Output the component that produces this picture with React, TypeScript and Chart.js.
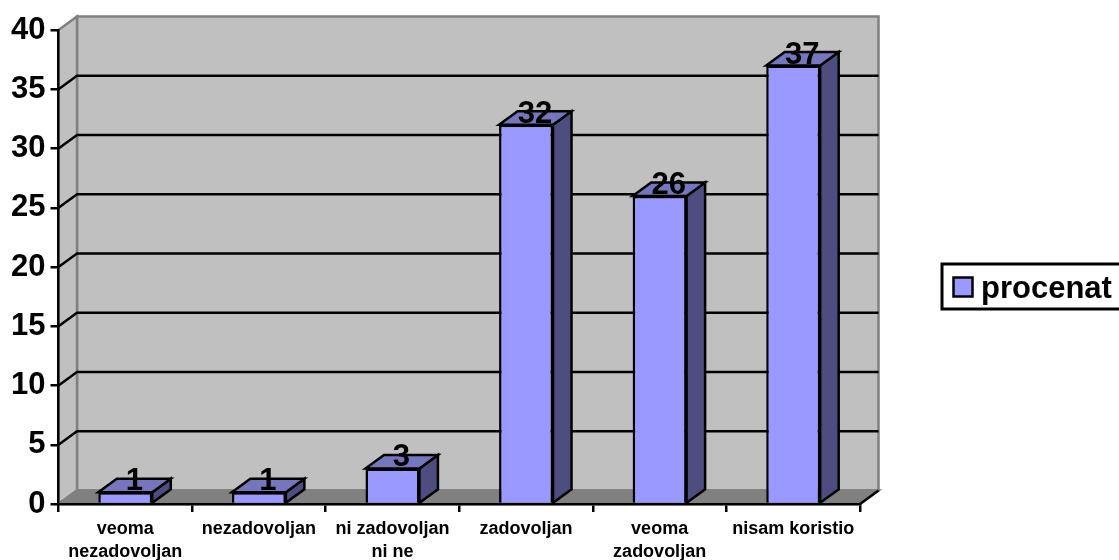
import React, { useEffect, useRef } from "react";
import { Chart, registerables } from "chart.js";

Chart.register(...registerables);

const categories: string[][] = [
  ["veoma", "nezadovoljan"],
  ["nezadovoljan"],
  ["ni zadovoljan", "ni ne"],
  ["zadovoljan"],
  ["veoma", "zadovoljan"],
  ["nisam koristio"],
];
const seriesName = "procenat";
const values = [1, 1, 3, 32, 26, 37];

const FONT = '"Liberation Sans", Arial, sans-serif';
const DX = 18.5;
const DY = 13.5;
const LW = 2.5;

function poly(ctx: CanvasRenderingContext2D, pts: number[][], fill: string | null, stroke: string | null, lw = LW) {
  ctx.beginPath();
  pts.forEach((p, i) => (i ? ctx.lineTo(p[0], p[1]) : ctx.moveTo(p[0], p[1])));
  ctx.closePath();
  if (fill) {
    ctx.fillStyle = fill;
    ctx.fill();
  }
  if (stroke) {
    ctx.strokeStyle = stroke;
    ctx.lineWidth = lw;
    ctx.lineJoin = "miter";
    ctx.stroke();
  }
}

const walls3d = {
  id: "walls3d",
  beforeDraw(chart: any) {
    const { ctx, chartArea: a, scales } = chart;
    const y = scales.y;
    ctx.save();
    // back wall
    poly(ctx, [[a.left + DX, a.top - DY], [a.right + DX, a.top - DY], [a.right + DX, a.bottom - DY], [a.left + DX, a.bottom - DY]], "#C0C0C0", "#808080");
    // left wall
    poly(ctx, [[a.left, a.top], [a.left + DX, a.top - DY], [a.left + DX, a.bottom - DY], [a.left, a.bottom]], "#C0C0C0", "#808080");
    // floor
    poly(ctx, [[a.left, a.bottom], [a.left + DX, a.bottom - DY], [a.right + DX, a.bottom - DY], [a.right, a.bottom]], "#808080", "#808080");
    // grid lines
    ctx.strokeStyle = "#000";
    ctx.lineWidth = LW;
    y.ticks.forEach((t: any) => {
      if (t.value === 0 || t.value === y.max) return;
      const py = y.getPixelForValue(t.value);
      ctx.beginPath();
      ctx.moveTo(a.left, py);
      ctx.lineTo(a.left + DX, py - DY);
      ctx.lineTo(a.right + DX, py - DY);
      ctx.stroke();
    });
    // right floor edge
    ctx.beginPath();
    ctx.moveTo(a.right, a.bottom);
    ctx.lineTo(a.right + DX, a.bottom - DY);
    ctx.stroke();
    ctx.restore();
  },
  beforeDatasetsDraw(chart: any) {
    const { ctx } = chart;
    ctx.save();
    chart.getDatasetMeta(0).data.forEach((bar: any) => {
      const l = bar.x - bar.width / 2;
      const r = bar.x + bar.width / 2;
      poly(ctx, [[r, bar.y], [r + DX, bar.y - DY], [r + DX, bar.base - DY], [r, bar.base]], "#4D4D80", "#000");
      poly(ctx, [[l, bar.y], [l + DX, bar.y - DY], [r + DX, bar.y - DY], [r, bar.y]], "#7676BF", "#000");
    });
    ctx.restore();
  },
  afterDatasetsDraw(chart: any) {
    const { ctx } = chart;
    ctx.save();
    ctx.fillStyle = "#000";
    ctx.font = `bold 31px ${FONT}`;
    ctx.textAlign = "center";
    ctx.textBaseline = "alphabetic";
    chart.getDatasetMeta(0).data.forEach((bar: any, i: number) => {
      ctx.fillText(String(chart.data.datasets[0].data[i]), bar.x + 9, bar.y - 2);
    });
    // legend
    ctx.fillStyle = "#fff";
    ctx.strokeStyle = "#000";
    ctx.lineWidth = 3;
    ctx.fillRect(942, 264, 180, 45);
    ctx.strokeRect(942, 264, 180, 45);
    ctx.fillStyle = "#9999FF";
    ctx.lineWidth = 2.5;
    ctx.fillRect(953.5, 277.5, 19, 19);
    ctx.strokeRect(953.5, 277.5, 19, 19);
    ctx.fillStyle = "#000";
    ctx.textAlign = "left";
    ctx.fillText(chart.data.datasets[0].label, 981, 298);
    ctx.restore();
  },
};

export default function App() {
  const ref = useRef<HTMLCanvasElement>(null);
  useEffect(() => {
    const chart = new Chart(ref.current as HTMLCanvasElement, {
      type: "bar",
      data: {
        labels: categories,
        datasets: [
          {
            label: seriesName,
            data: values,
            backgroundColor: "#9999FF",
            borderColor: "#000",
            borderWidth: 2.5,
            barPercentage: 0.404,
            categoryPercentage: 1,
          },
        ],
      },
      options: {
        animation: false,
        responsive: false,
        devicePixelRatio: 1,
        layout: { padding: { top: 30, right: 259, left: 0, bottom: 0 } },
        plugins: { legend: { display: false }, tooltip: { enabled: false }, title: { display: false } },
        scales: {
          x: {
            afterFit(s: any) {
              s.height = 56;
              s.paddingLeft = 0;
              s.paddingRight = 0;
            },
            grid: { drawOnChartArea: false, drawTicks: true, tickLength: 8, color: "#000", lineWidth: 2.5 },
            border: { color: "#000", width: 2.5 },
            ticks: {
              color: "#000",
              font: { family: FONT, size: 18, weight: "bold", lineHeight: 1.25 },
              maxRotation: 0,
              autoSkip: false,
              padding: 6,
            },
          },
          y: {
            min: 0,
            max: 40,
            afterFit(s: any) {
              s.width = 58.5;
              s.paddingTop = 0;
              s.paddingBottom = 0;
            },
            grid: { drawOnChartArea: false, drawTicks: true, tickLength: 8, color: "#000", lineWidth: 2.5 },
            border: { color: "#000", width: 2.5 },
            ticks: {
              stepSize: 5,
              color: "#000",
              font: { family: FONT, size: 31, weight: "bold" },
              padding: 5,
            },
          },
        },
      },
      plugins: [walls3d],
    } as any);
    return () => chart.destroy();
  }, []);
  return (
    <div style={{ position: "absolute", left: 0, top: 0, width: 1119, height: 560, overflow: "hidden", background: "#fff" }}>
      <canvas ref={ref} width={1119} height={560} style={{ display: "block" }} />
    </div>
  );
}
